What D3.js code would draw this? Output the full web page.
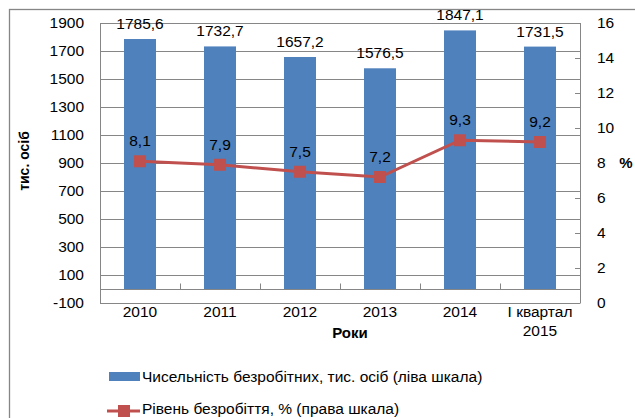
<!DOCTYPE html>
<html><head><meta charset="utf-8">
<script src="https://cdn.jsdelivr.net/npm/d3@7"></script>
<style>body{margin:0;background:#fff}svg{display:block}text{font-family:"Liberation Sans",Arial,sans-serif}</style>
</head><body><svg id="c" width="635" height="418"></svg>
<script>
const categories = ["2010","2011","2012","2013","2014","І квартал|2015"];
const unemployed = [1785.6,1732.7,1657.2,1576.5,1847.1,1731.5];
const rate = [8.1,7.9,7.5,7.2,9.3,9.2];
const leftTicks = [-100,100,300,500,700,900,1100,1300,1500,1700,1900];
const rightTicks = [0,2,4,6,8,10,12,14,16];
const seriesNames = ["Чисельність безробітних, тис. осіб (ліва шкала)","Рівень безробіття, % (права шкала)"];

const fmt = v => String(v).replace(".", ",");
const svg = d3.select("#c");
const L=100,R=580,T=23,B=303;
const x = d3.scaleBand().domain(categories).range([L,R]).paddingInner(0.6).paddingOuter(0.3);
const yL = d3.scaleLinear().domain([-100,1900]).range([B,T]);
const yR = d3.scaleLinear().domain([0,16]).range([B,T]);
const grid="#868686", blue="#4F81BD", red="#C0504D", fs=15.5;

// outer border
svg.append("rect").attr("x",9.5).attr("y",9.5).attr("width",700).attr("height",500)
  .attr("fill","none").attr("stroke","#868686").attr("stroke-width",1.3);

// gridlines
svg.append("g").selectAll("line").data(leftTicks).join("line")
  .attr("x1",L).attr("x2",R).attr("y1",d=>Math.round(yL(d))+0.5).attr("y2",d=>Math.round(yL(d))+0.5)
  .attr("stroke",grid).attr("stroke-width",1);
// plot border left/right
svg.append("line").attr("x1",L+0.5).attr("x2",L+0.5).attr("y1",T).attr("y2",B+0.5).attr("stroke",grid);
svg.append("line").attr("x1",R+0.5).attr("x2",R+0.5).attr("y1",T).attr("y2",B+0.5).attr("stroke",grid);
// zero axis line
const y0 = Math.round(yL(0))+0.5;
svg.append("line").attr("x1",L).attr("x2",R).attr("y1",y0).attr("y2",y0).attr("stroke",grid);
// category tick marks between bars
svg.append("g").selectAll("line").data(d3.range(1,categories.length)).join("line")
  .attr("x1",i=>Math.round(L+i*x.step())+0.5).attr("x2",i=>Math.round(L+i*x.step())+0.5)
  .attr("y1",y0).attr("y2",y0-6).attr("stroke",grid);
// right axis tick marks
svg.append("g").selectAll("line").data(rightTicks).join("line")
  .attr("x1",R-5).attr("x2",R).attr("y1",d=>Math.round(yR(d))+0.5).attr("y2",d=>Math.round(yR(d))+0.5)
  .attr("stroke",grid);

// bars
svg.append("g").selectAll("rect").data(unemployed).join("rect")
  .attr("x",(d,i)=>x(categories[i])).attr("width",x.bandwidth())
  .attr("y",d=>yL(d)).attr("height",d=>yL(0)-yL(d)).attr("fill",blue);
// bar labels
svg.append("g").selectAll("text").data(unemployed).join("text")
  .attr("x",(d,i)=>x(categories[i])+x.bandwidth()/2).attr("y",d=>yL(d)-10)
  .attr("text-anchor","middle").attr("font-size",fs).attr("fill","#000").text(fmt);

// line
const cx = i => x(categories[i])+x.bandwidth()/2;
svg.append("path").datum(rate).attr("fill","none").attr("stroke",red).attr("stroke-width",3)
  .attr("d",d3.line().x((d,i)=>cx(i)).y(d=>yR(d)));
svg.append("g").selectAll("rect").data(rate).join("rect")
  .attr("x",(d,i)=>cx(i)-6).attr("y",d=>yR(d)-6).attr("width",12).attr("height",12).attr("fill",red);
svg.append("g").selectAll("text").data(rate).join("text")
  .attr("x",(d,i)=>cx(i)).attr("y",d=>yR(d)-15)
  .attr("text-anchor","middle").attr("font-size",fs).text(fmt);

// left axis labels
svg.append("g").selectAll("text").data(leftTicks).join("text")
  .attr("x",84).attr("y",d=>yL(d)).attr("dy","0.35em").attr("text-anchor","end")
  .attr("font-size",fs).text(d=>d);
// right axis labels
svg.append("g").selectAll("text").data(rightTicks).join("text")
  .attr("x",597).attr("y",d=>yR(d)).attr("dy","0.35em").attr("text-anchor","start")
  .attr("font-size",fs).text(d=>d);
// category labels
const cl = svg.append("g").selectAll("text").data(categories).join("text")
  .attr("x",d=>x(d)+x.bandwidth()/2).attr("y",317).attr("text-anchor","middle").attr("font-size",fs);
cl.each(function(d){
  const parts=d.split("|");
  parts.forEach((p,j)=>d3.select(this).append("tspan").attr("x",x(d)+x.bandwidth()/2).attr("dy",j?19:0).text(p));
});
// axis titles
svg.append("text").attr("x",350).attr("y",338).attr("text-anchor","middle").attr("font-size",15).attr("font-weight","bold").text("Роки");
svg.append("text").attr("transform","translate(29,161) rotate(-90)").attr("text-anchor","middle").attr("font-size",14).attr("font-weight","bold").text("тис. осіб");
svg.append("text").attr("x",626).attr("y",163).attr("dy","0.35em").attr("text-anchor","middle").attr("font-size",15).attr("font-weight","bold").text("%");

// legend
svg.append("rect").attr("x",109).attr("y",372).attr("width",31).attr("height",9).attr("fill",blue);
svg.append("text").attr("x",142).attr("y",377).attr("dy","0.35em").attr("font-size",fs).text(seriesNames[0]);
svg.append("line").attr("x1",107).attr("x2",140).attr("y1",411).attr("y2",411).attr("stroke",red).attr("stroke-width",3);
svg.append("rect").attr("x",118).attr("y",405).attr("width",12).attr("height",12).attr("fill",red);
svg.append("text").attr("x",142).attr("y",409).attr("dy","0.35em").attr("font-size",fs).text(seriesNames[1]);
</script></body></html>
